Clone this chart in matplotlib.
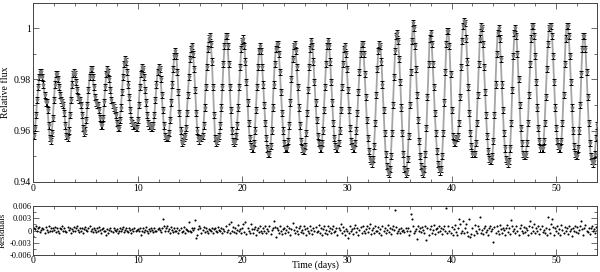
import numpy as np
import matplotlib
matplotlib.use('Agg')
import matplotlib.pyplot as plt
from matplotlib.ticker import MultipleLocator

plt.rcParams['font.family'] = ['Liberation Serif', 'DejaVu Serif']
plt.rcParams['font.size'] = 7

# sampling cadence of the light curve (days), one row per day below
cadence = 0.1

# relative flux in units of 1e-3, 10 samples per day
flux_by_day = [
    [958, 958, 961, 966, 972, 977, 981, 983, 983, 981],
    [978, 974, 971, 971, 968, 962, 957, 956, 959, 965],
    [972, 978, 982, 982, 980, 977, 974, 972, 971, 970],
    [967, 962, 958, 957, 960, 966, 972, 978, 982, 983],
    [982, 979, 976, 973, 972, 972, 970, 966, 961, 959],
    [960, 964, 970, 976, 981, 984, 984, 981, 977, 973],
    [971, 970, 970, 968, 965, 962, 962, 965, 971, 977],
    [982, 984, 983, 980, 976, 972, 970, 969, 968, 966],
    [963, 961, 961, 964, 969, 975, 981, 986, 988, 987],
    [983, 978, 973, 968, 964, 963, 962, 962, 961, 961],
    [964, 970, 977, 982, 985, 984, 981, 976, 971, 966],
    [963, 962, 962, 961, 961, 962, 966, 972, 978, 983],
    [985, 984, 980, 974, 968, 962, 958, 957, 957, 957],
    [959, 964, 971, 978, 984, 989, 991, 989, 983, 975],
    [967, 960, 955, 956, 957, 958, 961, 967, 974, 981],
    [988, 992, 993, 990, 984, 976, 967, 960, 957, 956],
    [957, 957, 958, 962, 969, 977, 985, 992, 996, 997],
    [994, 987, 977, 966, 957, 955, 956, 957, 958, 962],
    [969, 977, 986, 993, 997, 997, 993, 986, 977, 968],
    [960, 956, 955, 956, 958, 962, 969, 977, 985, 992],
    [995, 996, 993, 987, 979, 971, 963, 957, 954, 953],
    [953, 955, 960, 968, 977, 985, 991, 993, 991, 985],
    [978, 970, 963, 957, 953, 951, 951, 954, 960, 969],
    [978, 986, 992, 994, 994, 990, 983, 975, 967, 960],
    [955, 953, 953, 953, 956, 962, 971, 980, 988, 993],
    [994, 991, 985, 977, 969, 962, 956, 953, 952, 952],
    [954, 959, 967, 976, 985, 992, 995, 993, 987, 979],
    [971, 964, 958, 955, 953, 953, 955, 960, 968, 977],
    [986, 993, 995, 993, 987, 979, 971, 963, 957, 954],
    [953, 953, 955, 960, 968, 977, 986, 992, 993, 990],
    [984, 976, 968, 961, 956, 954, 953, 953, 955, 960],
    [967, 975, 983, 990, 994, 994, 990, 982, 973, 964],
    [957, 952, 949, 948, 947, 949, 954, 963, 974, 984],
    [991, 994, 993, 987, 978, 968, 959, 951, 946, 944],
    [943, 945, 950, 959, 970, 981, 991, 997, 998, 995],
    [988, 979, 969, 959, 951, 945, 943, 944, 949, 958],
    [970, 983, 995, 1002, 1000, 993, 984, 974, 964, 956],
    [950, 946, 944, 943, 945, 951, 961, 973, 986, 996],
    [998, 994, 986, 977, 967, 959, 952, 947, 945, 944],
    [945, 950, 959, 971, 983, 994, 999, 999, 993, 982],
    [968, 958, 955, 955, 957, 957, 958, 963, 973, 985],
    [995, 1001, 1003, 1002, 996, 987, 977, 967, 959, 954],
    [951, 951, 951, 955, 963, 974, 986, 996, 1001, 1000],
    [994, 985, 975, 966, 958, 952, 949, 948, 948, 950],
    [956, 966, 978, 990, 998, 1000, 996, 988, 978, 968],
    [959, 953, 949, 948, 947, 948, 953, 963, 976, 989],
    [998, 1000, 997, 990, 980, 970, 961, 955, 951, 950],
    [950, 951, 955, 963, 974, 986, 996, 1001, 1001, 997],
    [989, 979, 969, 961, 956, 953, 953, 953, 956, 963],
    [973, 984, 994, 1000, 1001, 1001, 997, 989, 979, 969],
    [961, 956, 954, 953, 953, 956, 963, 974, 986, 996],
    [1001, 1001, 997, 989, 979, 969, 960, 954, 951, 950],
    [950, 953, 960, 970, 982, 992, 997, 997, 992, 983],
    [973, 963, 955, 950, 948, 947, 948, 951, 957, 962],
]

# residuals in units of 1e-4, same sampling
resid_by_day = [
    [-13, 7, 3, 10, -2, 5, 8, -4, 2, 7],
    [3, -5, 8, 2, -4, 10, 0, 5, -2, 7],
    [2, 8, -4, 5, 0, -5, 7, 3, 10, -2],
    [5, 0, -4, 8, 2, 7, -5, 3, 0, 8],
    [-2, 5, 10, 2, -4, 7, 0, 5, -5, 3],
    [8, 2, -2, 5, 11, 0, 3, -4, 7, 2],
    [-4, 5, 0, 8, 2, -5, 3, 7, -2, 0],
    [-12, 3, -7, 2, 5, 0, -4, 7, 2, -2],
    [3, -5, 0, 7, -2, 3, 8, -4, 2, 5],
    [0, -4, 5, 2, -7, 3, 0, 5, -2, 2],
    [3, -2, 7, -11, 0, 5, -4, 2, 8, 0],
    [-5, 3, 0, 7, 2, -4, 5, 0, -2, 3],
    [5, 2, -4, 7, 29, 12, -2, 5, 10, 0],
    [3, -5, 8, 2, -4, 7, 0, -2, 5, -7],
    [2, 7, -4, 0, 8, -5, 3, 2, -2, 20],
    [0, -4, 7, 2, 5, 25, -18, -12, 3, 10],
    [7, -5, 2, 8, -4, 5, 0, -7, 3, 2],
    [-2, 5, -5, 3, 7, 0, -4, 8, 2, -2],
    [5, -7, 3, 0, 10, -4, 2, 16, -5, 20],
    [0, 8, -4, 5, -7, 2, 13, -2, 3, -5],
    [7, 17, -4, 21, -8, 5, 0, -5, 15, 3],
    [-7, 3, 8, -10, 2, 5, -4, 11, 0, -5],
    [5, -2, 10, -7, 3, 0, 12, -8, 2, 7],
    [22, 8, -16, 5, 2, -5, 10, 0, -8, 3],
    [7, -7, 2, 11, -4, 5, -10, 3, 18, 2],
    [-5, 8, 0, -8, 5, 12, -4, 2, -7, 10],
    [3, -10, 7, 0, -5, 11, 2, -8, 5, -2],
    [8, -4, 0, 13, -7, 5, -11, 3, 10, -5],
    [2, -8, 12, -2, 5, -7, 3, 10, -4, 0],
    [7, -12, 5, 2, 15, -5, 8, -2, -10, 3],
    [0, -18, -5, 11, -2, 3, -8, 5, 13, -4],
    [5, -10, 2, 8, -5, 12, 0, -7, 3, 10],
    [-4, 5, 16, -8, 2, 7, -5, 11, -2, 0],
    [8, -5, 3, -11, 10, 0, 5, -7, 2, 14],
    [-4, 7, -8, 3, 12, 2, 49, 8, -5, -2],
    [3, -7, 5, 0, 2, -4, 7, -2, 5, -11],
    [0, 41, 27, 10, -5, -2, 3, -21, 10, 0],
    [7, -4, 8, 2, -7, 12, -22, 5, -10, 3],
    [10, -5, 2, 13, -8, 3, 7, -4, 11, -2],
    [5, -8, 3, 10, -2, 55, -7, 12, 0, -5],
    [8, -10, 3, 13, -4, -12, 7, 29, 16, -5],
    [0, 24, -7, 5, 15, -4, -13, 29, -17, -8],
    [5, -11, 14, 0, -7, 10, 3, 32, -5, 2],
    [-8, 7, 12, -4, 2, -10, 5, 11, -2, 3],
    [-28, 8, -5, 10, 0, -8, 13, 3, -7, 5],
    [2, -10, 7, 14, -4, 5, -8, 25, 11, -2],
    [3, -7, 10, -2, -11, 5, 13, 0, -5, 8],
    [-4, 7, 2, -10, 12, 23, -5, 8, 0, 15],
    [-7, 5, -2, 10, -8, 3, 11, -4, 2, -5],
    [7, -10, 33, 3, -5, 16, 29, 8, -11, 5],
    [-2, 10, -7, 3, -12, 13, 2, -5, 8, 0],
    [5, -8, 11, -2, 3, -13, 7, 0, 10, -4],
    [8, -5, 2, 12, 24, 3, -10, 5, 14, -2],
    [-4, 7, -8, 5, 11, -2, 3, -7, 8, 2],
]

flux_err = 0.0012

flux = np.array(flux_by_day, dtype=float).ravel() / 1000.0
resid = np.array(resid_by_day, dtype=float).ravel() / 1e4
time = np.arange(len(flux)) * cadence

fig = plt.figure(figsize=(6.0, 2.72), dpi=100)
ax1 = fig.add_axes([0.055, 0.332, 0.94, 0.658])
ax2 = fig.add_axes([0.055, 0.062, 0.94, 0.181])

ax1.plot(time, flux, '-', color='#a5a5a5', lw=1.3, zorder=1)
ax1.errorbar(time, flux, yerr=flux_err, fmt='none', ecolor='black',
             elinewidth=0.7, capsize=1.6, capthick=0.7, zorder=2)
ax1.plot(time, flux, 'v', color='#7a7a7a', ms=2.0, zorder=3)
ax1.set_xlim(0, 53.9)
ax1.set_ylim(0.94, 1.01)
ax1.set_yticks([0.94, 0.96, 0.98, 1.0])
ax1.set_yticklabels(['0.94', '0.96', '0.98', '1'])
ax1.set_ylabel('Relative flux')
ax1.yaxis.set_label_coords(-0.04, 0.5)

ax2.plot(time, resid, 'o', color='black', ms=1.5, mew=0)
ax2.set_xlim(0, 53.9)
ax2.set_ylim(-0.006, 0.006)
ax2.set_yticks([-0.006, -0.003, 0, 0.003, 0.006])
ax2.set_yticklabels(['-0.006', '-0.003', '0', '0.003', '0.006'])
ax2.set_ylabel('Residuals', fontsize=6.5)
ax2.yaxis.set_label_coords(-0.047, 0.5)
ax2.set_xlabel('Time (days)')
ax2.xaxis.label.set_va('bottom')
ax2.xaxis.set_label_coords(0.5, -0.30)

for ax in (ax1, ax2):
    ax.set_xticks([0, 10, 20, 30, 40, 50])
    ax.xaxis.set_minor_locator(MultipleLocator(2))
    ax.tick_params(which='both', direction='in', top=True, right=True,
                   labelsize=7, pad=1.5, width=0.6, color='#555555')
    ax.tick_params(which='major', length=4)
    ax.tick_params(which='minor', length=2)
    for s in ax.spines.values():
        s.set_linewidth(0.7)
        s.set_color('#444444')
ax1.yaxis.set_minor_locator(MultipleLocator(0.01))
ax2.yaxis.set_minor_locator(MultipleLocator(0.0015))
ax2.tick_params(axis='y', labelsize=6, pad=1)
ax2.tick_params(axis='x', pad=0.5)

fig.savefig('out.png', dpi=100)
